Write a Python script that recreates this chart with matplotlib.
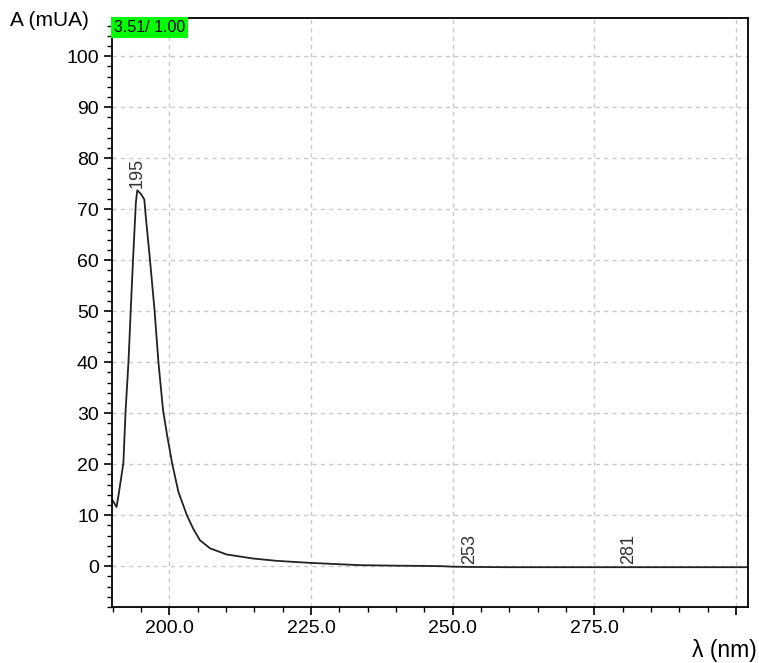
import matplotlib
matplotlib.use("Agg")
import matplotlib.pyplot as plt
from matplotlib.ticker import MultipleLocator, FixedLocator

plt.rcParams['font.family'] = ['Liberation Sans', 'DejaVu Sans']

# Spectrum data (wavelength nm, absorbance mAU)
wavelength = [190.0, 190.7, 191.1, 191.9, 192.3, 192.8, 193.2, 193.6, 194.1, 194.35,
              195.0, 195.6, 195.8, 196.6, 197.4, 198.1, 198.9, 199.6, 200.5, 201.6,
              203.1, 204.2, 205.4, 207.2, 210.1, 214.8, 218.9, 224.8, 233.6, 240.0,
              245.0, 248.0, 250.0, 253.0, 260.0, 270.0, 281.0, 290.0, 302.0]
absorbance = [12.9, 11.6, 14.3, 20.2, 30.6, 40.0, 50.2, 60.0, 71.2, 73.7,
              73.0, 71.9, 69.2, 60.0, 50.2, 39.8, 30.6, 25.8, 20.2, 14.6,
              10.0, 7.4, 5.1, 3.5, 2.3, 1.5, 1.05, 0.65, 0.2, 0.1,
              0.05, 0.0, -0.1, -0.15, -0.2, -0.2, -0.2, -0.2, -0.2]

peak_labels = ["195", "253", "281"]
peak_x = [194.4, 253.0, 281.0]
peak_y = [73.7, -0.15, -0.2]

x_major = [200, 225, 250, 275, 300]
x_labels = ["200.0", "225.0", "250.0", "275.0", ""]
y_major = [0, 10, 20, 30, 40, 50, 60, 70, 80, 90, 100]

fig = plt.figure(figsize=(7.59, 6.63), dpi=100)
ax = fig.add_axes([0.1476, 0.0845, 0.8379, 0.8884])

ax.plot(wavelength, absorbance, color="#222222", lw=1.3)

ax.set_xlim(189.9, 302.1)
ax.set_ylim(-8.0, 107.5)

ax.xaxis.set_major_locator(FixedLocator(x_major))
ax.set_xticklabels(x_labels)
ax.xaxis.set_minor_locator(MultipleLocator(5))
ax.set_yticks(y_major)
ax.set_yticklabels([str(v) for v in y_major])
ax.yaxis.set_minor_locator(MultipleLocator(2))

ax.tick_params(axis="both", which="major", length=6, width=1.2, labelsize=14, direction="out")
ax.tick_params(axis="both", which="minor", length=3.5, width=1.0, direction="out")

ax.grid(True, which="major", color="#c8c8c8", linestyle=(0, (3, 3)), lw=1.0)
ax.set_axisbelow(True)
for s in ax.spines.values():
    s.set_linewidth(1.3)
    s.set_color("black")

# peak labels
for lbl, px, py in zip(peak_labels, peak_x, peak_y):
    ax.annotate(lbl, (px, py), xytext=(0, 2), textcoords="offset points",
                rotation=90, ha="center", va="bottom", fontsize=13, color="#333333")

# green scale box
ax.text(0.0025, 0.997, "3.51/ 1.00", transform=ax.transAxes, ha="left", va="top",
        fontsize=11.5, color="black",
        bbox=dict(boxstyle="square,pad=0.18", facecolor="#00ff00", edgecolor="none"))

fig.text(10 / 759, 1 - 21 / 663, "A (mUA)", ha="left", va="center", fontsize=15)
fig.text(1 - 2 / 759, 1 - 651 / 663, "λ (nm)", ha="right", va="center", fontsize=16.5)

fig.savefig("out.png", dpi=100)
